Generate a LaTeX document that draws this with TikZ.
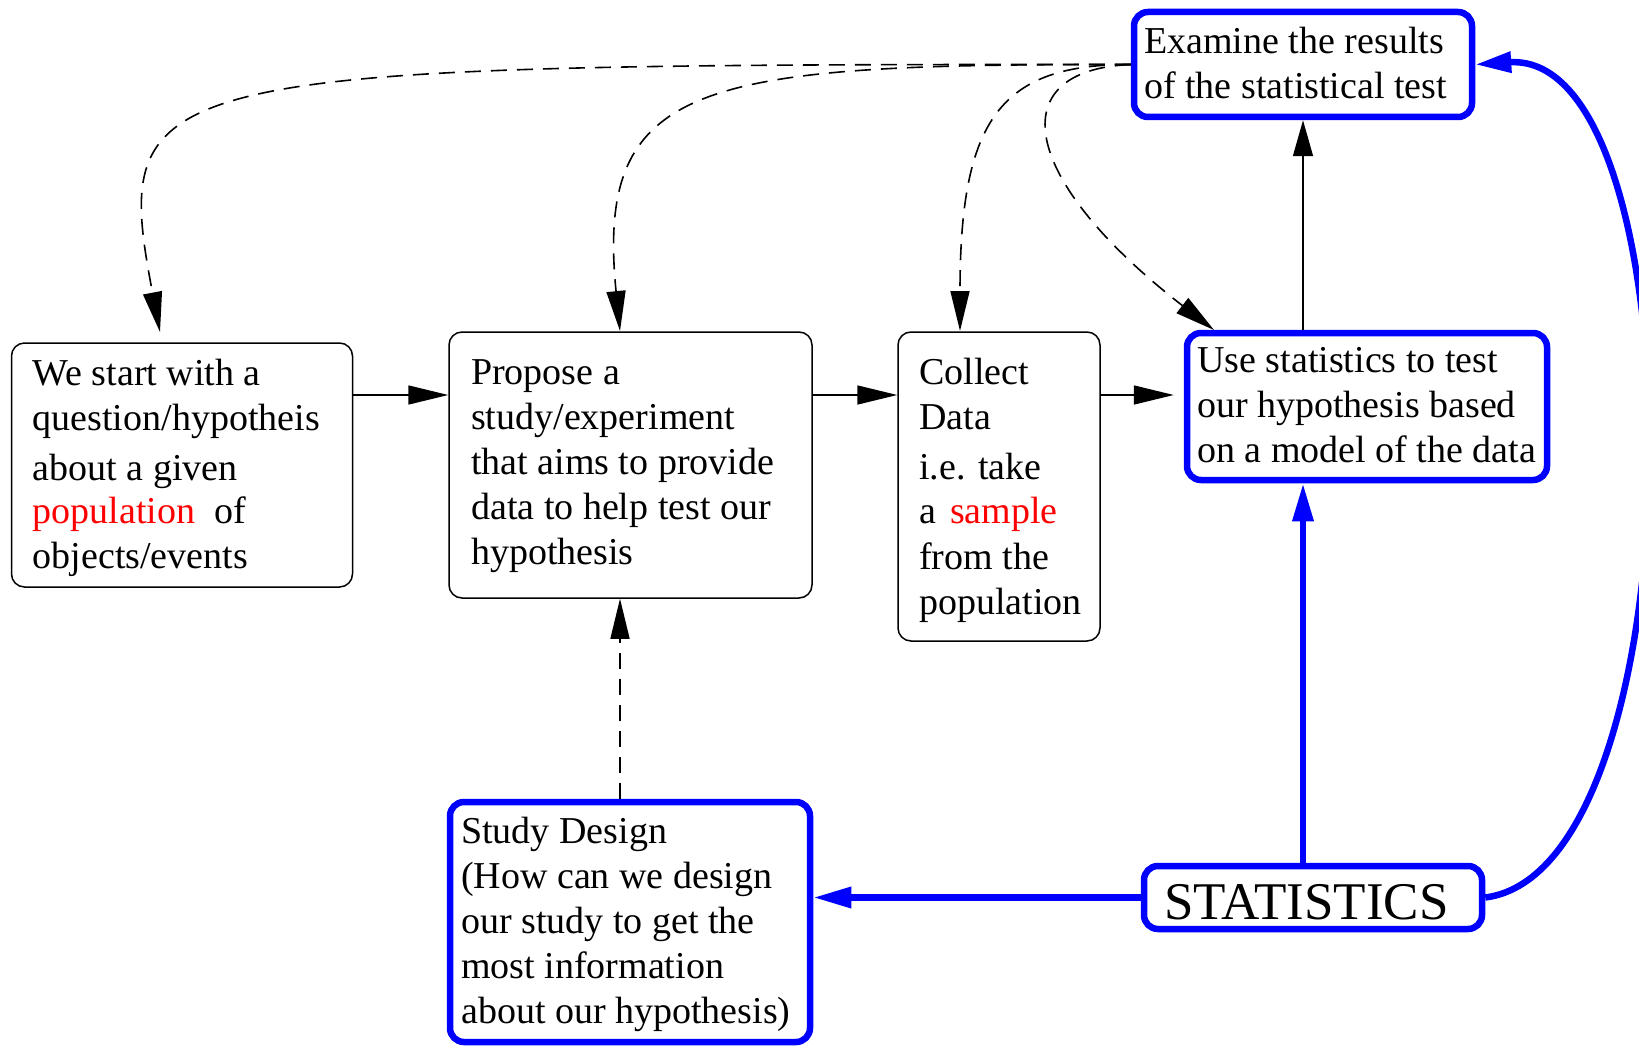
\documentclass[tikz,border=0pt]{standalone}
\usepackage{fontspec}
\setmainfont{Liberation Serif}
\usetikzlibrary{arrows.meta,calc}
\begin{document}
\begin{tikzpicture}[x=1pt,y=-1pt,
  blk/.style={draw=black,line width=1.5pt,rounded corners=13pt,inner sep=0pt},
  blu/.style={draw=blue,line width=6.5pt,rounded corners=14pt,inner sep=0pt},
  txt/.style={anchor=north west,inner sep=0pt,align=left,font=\fontsize{38}{45}\selectfont},
  arr/.style={line width=1.6pt,-{Triangle[length=40pt,width=19pt]}},
  dsh/.style={dash pattern=on 16pt off 10pt},
  barr/.style={draw=blue,line width=6.5pt,-{Triangle[length=38pt,width=20pt]}}]
\useasboundingbox (0,0) rectangle (1639,1046);
% boxes
\node[blk,minimum width=341pt,minimum height=244pt] (a) at (182,465) {};
\node[blk,minimum width=363pt,minimum height=266pt] (b) at (630.5,465) {};
\node[blk,minimum width=202pt,minimum height=309pt] (c) at (999,486.5) {};
\node[blu,minimum width=360pt,minimum height=147pt] (u) at (1367,406.5) {};
\node[blu,minimum width=338pt,minimum height=105pt] (e) at (1303,64.5) {};
\node[blu,minimum width=360pt,minimum height=240pt] (d) at (630,922) {};
\node[blu,minimum width=338pt,minimum height=63pt] (s) at (1313,897.5) {};
% texts
\node[txt] (ta) at (32.5,354) {\strut We start with a\\question/hypotheis\\[5pt]about a given\\[-2pt]\textcolor{red}{population}\hspace{19pt}of\\objects/events};
\node[txt] (tb) at (471,352.5) {\strut Propose a\\study/experiment\\that aims to provide\\data to help test our\\hypothesis};
\node[txt] (tc) at (919,353) {\strut Collect\\Data\\[5pt]i.e. take\\[-1pt]a\hspace{14pt}\textcolor{red}{sample}\\[1pt]from the\\population};
\node[txt] (tu) at (1197,341) {\strut Use statistics to test\\our hypothesis based\\on a model of the data};
\node[txt] (te) at (1144,22) {\strut Examine the results\\of the statistical test};
\node[txt] (td) at (461,812) {\strut Study Design\\(How can we design\\our study to get the\\most information\\about our hypothesis)};
\node[anchor=base west,inner sep=0pt,font=\fontsize{53}{60}\selectfont] (ts) at (1164,919) {STATISTICS};
% helper coordinates
\coordinate (row) at (0,395);
\coordinate (col) at (620,0);
\coordinate (t1) at (160,332);
\coordinate (t2) at (620,331);
\coordinate (t3) at (960,331);
\coordinate (t4) at (1214,330);
% solid black arrows
\draw[arr] (a.east |- row) -- (b.west |- row);
\draw[arr] (b.east |- row) -- (c.west |- row);
\draw[arr,shorten >=10pt] (c.east |- row) -- (u.west |- row);
\draw[arr,-{Triangle[length=36pt,width=20pt]}] (u.north -| e.south) -- (e.south);
% dashed arrows
\draw[arr,dsh] (d.north -| col) -- (b.south -| col);
\draw[arr,dsh] (e.west) .. controls (140,64) and (110,70) .. (t1);
\draw[arr,dsh] (e.west) .. controls (700,64) and (595,80) .. (t2);
\draw[arr,dsh] (e.west) .. controls (1000,64) and (960,120) .. (t3);
\draw[arr,dsh] (e.west) .. controls (1000,70) and (1020,180) .. (t4);
% blue arrows
\draw[barr] (s.north -| e.south) -- (u.south -| e.south);
\draw[barr] (s.west) -- (d.east |- s.west);
\draw[barr,-{Triangle[length=36pt,width=20pt]}] (s.east) .. controls (1700,870) and (1700,50) .. (e.east);
\end{tikzpicture}
\end{document}
